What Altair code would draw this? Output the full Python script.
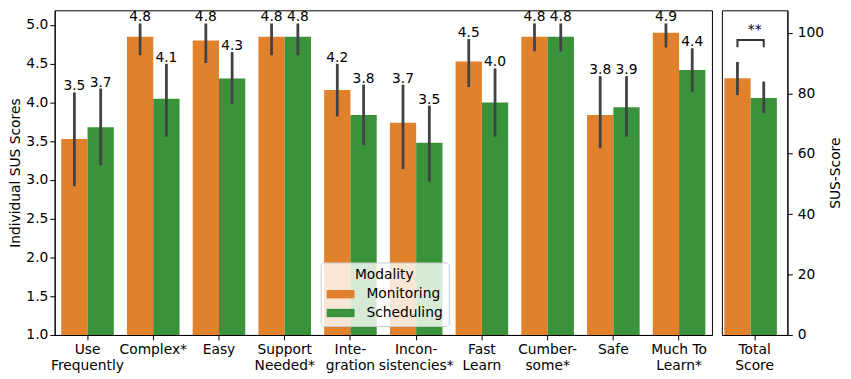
import altair as alt
import pandas as pd

categories = ["Use\nFrequently", "Complex*", "Easy", "Support\nNeeded*", "Inte-\ngration",
              "Incon-\nsistencies*", "Fast\nLearn", "Cumber-\nsome*", "Safe", "Much To\nLearn*"]
modalities = ["Monitoring", "Scheduling"]
colors = ["#e1812c", "#3a923a"]

monitoring_mean = [3.53, 4.85, 4.80, 4.85, 4.16, 3.74, 4.53, 4.85, 3.84, 4.90]
monitoring_lo = [2.92, 4.61, 4.51, 4.61, 3.82, 3.14, 4.20, 4.66, 3.41, 4.71]
monitoring_hi = [4.13, 5.02, 5.02, 5.02, 4.50, 4.23, 4.82, 5.02, 4.34, 5.02]
monitoring_label = ["3.5", "4.8", "4.8", "4.8", "4.2", "3.7", "4.5", "4.8", "3.8", "4.9"]

scheduling_mean = [3.68, 4.05, 4.31, 4.85, 3.84, 3.48, 4.00, 4.85, 3.94, 4.42]
scheduling_lo = [3.19, 3.56, 3.98, 4.61, 3.45, 2.98, 3.56, 4.66, 3.56, 4.14]
scheduling_hi = [4.18, 4.50, 4.65, 5.02, 4.23, 3.96, 4.44, 5.02, 4.34, 4.70]
scheduling_label = ["3.7", "4.1", "4.3", "4.8", "3.8", "3.5", "4.0", "4.8", "3.9", "4.4"]

total_category = ["Total\nScore"]
total_mean = [85.0, 78.5]
total_lo = [79.4, 73.5]
total_hi = [90.4, 83.9]
sig_label = "**"
bracket_low = 95.3
bracket_high = 97.7
sig_y = 101.0

FONT = "DejaVu Sans"
FS = 13.9
H = 327

rows = []
for i, c in enumerate(categories):
    rows.append(dict(cat=c, mod="Monitoring", mean=monitoring_mean[i], lo=monitoring_lo[i],
                     hi=monitoring_hi[i], label=monitoring_label[i]))
    rows.append(dict(cat=c, mod="Scheduling", mean=scheduling_mean[i], lo=scheduling_lo[i],
                     hi=scheduling_hi[i], label=scheduling_label[i]))
df = pd.DataFrame(rows)

tot = pd.DataFrame(dict(cat=total_category * 2, mod=modalities, mean=total_mean,
                        lo=total_lo, hi=total_hi))
bracket = pd.DataFrame(dict(cat=total_category * 4,
                            mod=["Monitoring", "Monitoring", "Scheduling", "Scheduling"],
                            v=[bracket_low, bracket_high, bracket_high, bracket_low],
                            o=[0, 1, 2, 3]))
sig = pd.DataFrame(dict(cat=total_category, v=[sig_y], t=[sig_label]))

color_scale = alt.Scale(domain=modalities, range=colors)

x_left = alt.X("cat:N", sort=categories, title=None,
               scale=alt.Scale(paddingInner=0.2, paddingOuter=0.1),
               axis=alt.Axis(labelAngle=0, labelExpr="split(datum.label, '\\n')",
                             labelLineHeight=16, labelPadding=3))
xoff = alt.XOffset("mod:N", sort=modalities, scale=alt.Scale(paddingInner=0, paddingOuter=0))

y_left_scale = alt.Scale(domain=[1.0, 5.19], nice=False, zero=False)
y_left_axis = alt.Axis(values=[1.0, 1.5, 2.0, 2.5, 3.0, 3.5, 4.0, 4.5, 5.0], format=".1f",
                       title="Individual SUS Scores", titlePadding=3, labelPadding=2)

bars = alt.Chart(df).mark_bar(clip=True).encode(
    x=x_left, xOffset=xoff,
    y=alt.Y("mean:Q", scale=y_left_scale, axis=y_left_axis),
    color=alt.Color("mod:N", scale=color_scale,
                    legend=alt.Legend(title="Modality", orient="none", legendX=268, legendY=H - 73,
                                      fillColor="rgba(255,255,255,0.8)", strokeColor="#cccccc",
                                      cornerRadius=3, padding=6, titleAnchor="middle",
                                      titleFontSize=FS, titleFontWeight="normal", labelFontSize=FS,
                                      titleColor="black", labelColor="black",
                                      symbolType="M-1,-0.6H3V0.6H-1Z", symbolSize=196,
                                      symbolStrokeWidth=0, labelOffset=26, rowPadding=5,
                                      titlePadding=5)),
)
errs = alt.Chart(df).mark_rule(color="#424242", strokeWidth=2.8).encode(
    x=x_left, xOffset=xoff, y=alt.Y("lo:Q", scale=y_left_scale), y2="hi:Q")
texts = alt.Chart(df).mark_text(baseline="bottom", dy=1, fontSize=FS, color="black", font=FONT).encode(
    x=x_left, xOffset=xoff, y=alt.Y("hi:Q", scale=y_left_scale), text="label:N")

left = alt.layer(bars, errs, texts).properties(width=662, height=H)

x_right = alt.X("cat:N", title=None, scale=alt.Scale(paddingInner=0, paddingOuter=0.04),
                axis=alt.Axis(labelAngle=0, labelExpr="split(datum.label, '\\n')",
                              labelLineHeight=16, labelPadding=3))
y_right_scale = alt.Scale(domain=[0, 107.5], nice=False)
y_right_axis = alt.Axis(orient="right", values=[0, 20, 40, 60, 80, 100], format="d",
                        title="SUS-Score", titlePadding=5, labelPadding=5, titleAngle=270,
                        titleBaseline="top")

rbars = alt.Chart(tot).mark_bar(clip=True).encode(
    x=x_right, xOffset=xoff,
    y=alt.Y("mean:Q", scale=y_right_scale, axis=y_right_axis),
    color=alt.Color("mod:N", scale=color_scale, legend=None))
rerrs = alt.Chart(tot).mark_rule(color="#424242", strokeWidth=2.8).encode(
    x=x_right, xOffset=xoff, y=alt.Y("lo:Q", scale=y_right_scale), y2="hi:Q")
rbr = alt.Chart(bracket).mark_line(color="#333333", strokeWidth=2).encode(
    x=x_right, xOffset=xoff, y=alt.Y("v:Q", scale=y_right_scale), order="o:Q")
rsig = alt.Chart(sig).mark_text(baseline="middle", fontSize=FS, color="black", font=FONT).encode(
    x=x_right, y=alt.Y("v:Q", scale=y_right_scale), text="t:N")

right = alt.layer(rbars, rerrs, rbr, rsig).properties(width=66, height=H)

chart = alt.hconcat(left, right, spacing=8).resolve_scale(
    color="independent", y="independent"
).properties(padding=0).configure(font=FONT).configure_view(
    stroke="black", strokeWidth=1
).configure_axis(
    grid=False, domainColor="black", tickColor="black", tickSize=4.9, labelFontSize=FS,
    titleFontSize=FS, titleFontWeight="normal", labelColor="black", titleColor="black",
    labelFont=FONT, titleFont=FONT
)

chart.save("out.html", embed_options={"renderer": "svg", "actions": False})
